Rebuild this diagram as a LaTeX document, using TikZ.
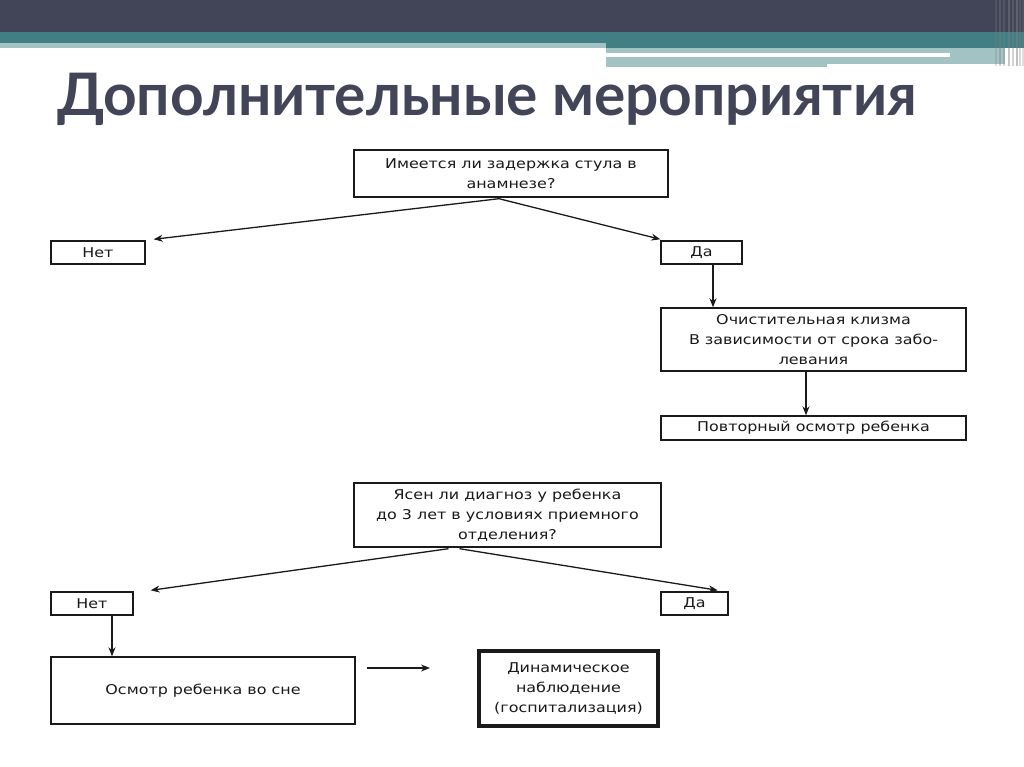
\documentclass[tikz,border=0pt]{standalone}
\usepackage{fontspec}
\setmainfont{DejaVu Sans}
\newfontfamily\titlefont{Lato}
\newfontfamily\boxfont[FakeStretch=1.18]{DejaVu Sans}
\usetikzlibrary{arrows.meta}
\definecolor{hdark}{HTML}{424457}
\definecolor{hteal}{HTML}{417F84}
\definecolor{hlight}{HTML}{A3C2C4}
\definecolor{ink}{HTML}{1A1A1A}
\tikzset{
  box/.style={draw=ink, line width=1.4pt, fill=white, inner sep=0pt, align=center,
    font=\boxfont\fontsize{13.5}{20}\selectfont, text=ink},
  thickbox/.style={box, line width=3.5pt},
  arr/.style={draw=ink, line width=1.3pt, -{Stealth[length=9pt,width=7pt]}},
}
\begin{document}
\begin{tikzpicture}[x=1pt,y=-1pt]
\useasboundingbox (0,0) rectangle (1024,767);
\fill[white] (0,0) rectangle (1024,767);
% header bands
\fill[hdark] (0,0) rectangle (1024,32);
\fill[hteal] (0,32) rectangle (1024,48);
\fill[hlight] (0,43) rectangle (606,48);
\fill[hlight] (606,48) rectangle (1005,53);
\fill[white] (606,53) rectangle (950,57);
\fill[hlight] (950,53) rectangle (1005,57);
\fill[hlight] (606,57) rectangle (1005,64);
\fill[hlight] (606,64) rectangle (827,67);
% right edge stripes
\foreach \xx/\op in {995/0.25,999/0.35,1003/0.3,1008/0.45,1012/0.35,1016/0.5,1019/0.3,1022/0.25}
  \fill[gray,opacity=\op] (\xx,0) rectangle ++(2,66);
% title
\node[anchor=base west, inner sep=0pt, text=hdark, font=\titlefont\bfseries\fontsize{58.6}{60}\selectfont] (title) at (57,116) {Дополнительные мероприятия};
% nodes
\node[box, minimum width=314pt, minimum height=47pt] (q1) at (511,173.5) {Имеется ли задержка стула в\\анамнезе?};
\node[box, minimum width=94pt, minimum height=23pt] (net1) at (98,252.5) {Нет};
\node[box, minimum width=81pt, minimum height=23pt] (da1) at (701.5,252.5) {Да};
\node[box, minimum width=305pt, minimum height=63pt] (kl) at (813.5,339.5) {Очистительная клизма\\В зависимости от срока забо-\\левания};
\node[box, minimum width=305pt, minimum height=24pt] (rep) at (813.5,428) {Повторный осмотр ребенка};
\node[box, minimum width=307pt, minimum height=64pt] (q2) at (507.5,515) {Ясен ли диагноз у ребенка\\до 3 лет в условиях приемного\\отделения?};
\node[box, minimum width=82pt, minimum height=23pt] (net2) at (92,603.5) {Нет};
\node[box, minimum width=67pt, minimum height=23pt] (da2) at (694.5,603.5) {Да};
\node[box, minimum width=304pt, minimum height=67pt] (sleep) at (203,690.5) {Осмотр ребенка во сне};
\node[thickbox, minimum width=179pt, minimum height=75pt] (dyn) at (568.5,688.5) {Динамическое\\наблюдение\\(госпитализация)};
% connectors
\coordinate (q1b) at ([xshift=-12pt,yshift=-1pt]q1.south);
\draw[arr] (q1b) -- ([xshift=8pt,yshift=1pt]net1.north east);
\draw[arr] (q1b) -- ([yshift=1pt]da1.north west);
\draw[arr] ([xshift=11.5pt]da1.south) -- ([xshift=11.5pt]da1.south |- kl.north);
\draw[arr] ([xshift=-7.5pt]kl.south) -- ([xshift=-7.5pt]kl.south |- rep.north);
\draw[arr] ([xshift=-59pt,yshift=-1pt]q2.south) -- ([xshift=17pt,yshift=1pt]net2.north east);
\draw[arr] ([xshift=-48pt,yshift=-1pt]q2.south) -- ([xshift=-11pt,yshift=1pt]da2.north east);
\draw[arr] ([xshift=20pt]net2.south) -- ([xshift=20pt]net2.south |- sleep.north);
\coordinate (fa) at (367,668);
\coordinate (fb) at (430,668);
\draw[arr] (fa) -- (fb);
\end{tikzpicture}
\end{document}
